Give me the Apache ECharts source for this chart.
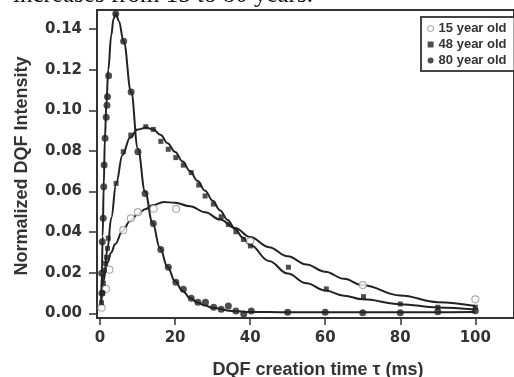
<!DOCTYPE html>
<html>
<head>
<meta charset="utf-8">
<script src="https://cdn.jsdelivr.net/npm/echarts@6/dist/echarts.min.js"></script>
<style>
html,body{margin:0;padding:0;background:#fff;}
#c{width:514px;height:377px;}
</style>
</head>
<body>
<div id="c"></div>
<script>
// ---- data ----
var seriesNames = ['15 year old', '48 year old', '80 year old'];
var xTicks = [0, 20, 40, 60, 80, 100];
var yTicks = [0, 0.02, 0.04, 0.06, 0.08, 0.10, 0.12, 0.14];

// measured points
var t15 = [0.4, 1.6, 2.5, 6.2, 8.2, 10.1, 14.3, 20.3, 40, 70, 100];
var v15 = [0.0028, 0.012, 0.0215, 0.041, 0.0468, 0.0498, 0.0515, 0.0514, 0.0355, 0.0139, 0.0069];

var t48 = [0.4, 0.7, 0.9, 1.2, 1.5, 1.75, 2.0, 2.2, 4.3, 6.2, 8.2, 12.2, 14.2, 16.2, 18.2, 20.2, 22.2, 24.3, 26.3, 28.0, 30.2, 32.3, 34.2, 36.2, 38.2, 40.1, 50.2, 60.3, 70.2, 80, 90, 100];
var v48 = [0.0052, 0.010, 0.0148, 0.0213, 0.0246, 0.0276, 0.032, 0.037, 0.064, 0.0796, 0.0878, 0.0919, 0.0906, 0.0847, 0.0808, 0.0767, 0.073, 0.0693, 0.0632, 0.0578, 0.0538, 0.0476, 0.0438, 0.0402, 0.0364, 0.0332, 0.0227, 0.012, 0.0082, 0.0046, 0.003, 0.003];

var t80 = [0.5, 0.45, 0.6, 0.85, 1.0, 1.1, 1.35, 1.65, 1.85, 2.0, 2.3, 4.2, 6.3, 8.3, 10.1, 12.0, 14.2, 16.2, 18.2, 20.2, 22.2, 24.3, 26.1, 28.1, 30.3, 32.3, 34.2, 36.2, 38.3, 40.3, 50, 60, 70, 80, 90, 100];
var v80 = [0.0099, 0.0197, 0.0353, 0.0468, 0.0624, 0.073, 0.0862, 0.0966, 0.1025, 0.1067, 0.117, 0.1475, 0.134, 0.109, 0.0796, 0.059, 0.0443, 0.0315, 0.0227, 0.0153, 0.0118, 0.0074, 0.0054, 0.0054, 0.003, 0.002, 0.0036, 0.0011, -0.0003, 0.0011, 0.0005, 0.0005, 0.0003, 0.0003, 0.0008, 0.0013];

// fitted curves
var fitT15 = [0.5, 1, 2, 3, 4, 6, 8, 10, 12, 14, 17, 20, 24, 28, 32, 36, 40, 45, 50, 55, 60, 65, 70, 80, 90, 100];
var fitV15 = [0.014, 0.019, 0.025, 0.030, 0.034, 0.0405, 0.0455, 0.0487, 0.0513, 0.0532, 0.0548, 0.0545, 0.0527, 0.0498, 0.0462, 0.042, 0.0376, 0.0326, 0.0281, 0.0241, 0.0205, 0.017, 0.0138, 0.0088, 0.0055, 0.0036];

var fitT48 = [0.3, 1.0, 2.0, 3.0, 4.3, 6.0, 8.0, 10.0, 12.3, 14.2, 16.2, 18, 20, 22, 24, 26, 28, 30, 32, 34, 36, 38, 40, 45, 50, 55, 60, 65, 70, 80, 90, 100];
var fitV48 = [0.004, 0.016, 0.032, 0.047, 0.064, 0.078, 0.0865, 0.0905, 0.0915, 0.0905, 0.0878, 0.0838, 0.0795, 0.0748, 0.070, 0.0652, 0.0604, 0.0555, 0.0507, 0.046, 0.0415, 0.0374, 0.0336, 0.0258, 0.0196, 0.0148, 0.0112, 0.0087, 0.0069, 0.0045, 0.0029, 0.0019];

var fitT80 = [0.3, 0.5, 0.7, 1.0, 1.3, 1.7, 2.2, 3.0, 3.6, 4.2, 5.0, 6.3, 8.3, 10.1, 12, 14, 16, 18, 20, 22, 24, 26, 28, 30, 35, 40, 50, 60, 70, 80, 90, 100];
var fitV80 = [0.005, 0.02, 0.038, 0.063, 0.086, 0.103, 0.12, 0.137, 0.145, 0.1478, 0.144, 0.134, 0.109, 0.081, 0.06, 0.0445, 0.032, 0.0228, 0.0158, 0.011, 0.0076, 0.0053, 0.0038, 0.0027, 0.0012, 0.0007, 0.0005, 0.0005, 0.0005, 0.0005, 0.0005, 0.0006];

var captionText = 'increases from 15 to 80 years.';
var xTitle = 'DQF creation time \u03c4 (ms)';
var yTitle = 'Normalized DQF Intensity';

function pairs(ts, vs) { return ts.map(function (t, i) { return [t, vs[i]]; }); }

var INK = '#222';
var LBL = 'DejaVu Sans';
var TITLEF = 'Liberation Sans';

var chart = echarts.init(document.getElementById('c'), null, {renderer: 'canvas'});

function fitSeries(ts, vs) {
  return {
    type: 'line', data: pairs(ts, vs), smooth: 0.4, smoothMonotone: 'x',
    showSymbol: false, symbol: 'none', silent: true, z: 2,
    lineStyle: {color: INK, width: 2}
  };
}

chart.setOption({
  animation: false,
  backgroundColor: '#fff',
  grid: {left: 97, right: -5, top: 10, bottom: 59, show: true, borderColor: '#333', borderWidth: 2, containLabel: false},
  xAxis: {
    type: 'value', min: -0.8, max: 110.3,
    axisLine: {show: true, onZero: false, lineStyle: {color: '#333', width: 2}},
    axisTick: {show: true, customValues: xTicks, length: 7, inside: false, lineStyle: {color: '#333', width: 1.5}},
    axisLabel: {customValues: xTicks, margin: 13, color: '#333', fontFamily: LBL, fontWeight: 'bold', fontSize: 15},
    splitLine: {show: false}
  },
  yAxis: {
    type: 'value', min: -0.0023, max: 0.1494,
    axisLine: {show: true, onZero: false, lineStyle: {color: '#333', width: 2}},
    axisTick: {show: true, customValues: yTicks, length: 8, inside: false, lineStyle: {color: '#333', width: 1.5}},
    axisLabel: {customValues: yTicks, margin: 15, color: '#333', fontFamily: LBL, fontWeight: 'bold', fontSize: 15,
      formatter: function (v) { return v.toFixed(2); }},
    splitLine: {show: false}
  },
  legend: {
    data: [
      {name: seriesNames[0], icon: 'circle', itemStyle: {color: '#fff', borderColor: '#999', borderWidth: 1.2}},
      {name: seriesNames[1], icon: 'rect', itemStyle: {color: INK}},
      {name: seriesNames[2], icon: 'circle', itemStyle: {color: INK}}
    ],
    orient: 'vertical', left: 421, top: 17,
    padding: [5, 8, 4, 6], itemGap: 3, itemWidth: 6, itemHeight: 6,
    backgroundColor: '#fff', borderColor: '#444', borderWidth: 2,
    textStyle: {fontFamily: TITLEF, fontWeight: 'bold', fontSize: 13, color: '#333', padding: [0, 0, 0, 0]},
    selectedMode: false
  },
  graphic: [
    {type: 'text', x: 13, y: -5, silent: true,
      style: {text: captionText, font: '25px "Liberation Serif"', fill: '#111', verticalAlign: 'middle', align: 'left'}},
    {type: 'text', x: 318, y: 370, silent: true,
      style: {text: xTitle, font: 'bold 18px "Liberation Sans"', fill: '#333', align: 'center', verticalAlign: 'middle'}},
    {type: 'text', x: 22, y: 166, rotation: Math.PI / 2, silent: true,
      style: {text: yTitle, font: 'bold 18px "Liberation Sans"', fill: '#333', align: 'center', verticalAlign: 'middle'}}
  ],
  series: [
    fitSeries(fitT15, fitV15),
    fitSeries(fitT48, fitV48),
    fitSeries(fitT80, fitV80),
    {name: seriesNames[0], type: 'scatter', data: pairs(t15, v15), symbol: 'circle', symbolSize: 7, z: 3,
      itemStyle: {color: '#fff', borderColor: '#999', borderWidth: 1.2}},
    {name: seriesNames[1], type: 'scatter', data: pairs(t48, v48), symbol: 'rect', symbolSize: 5, z: 4,
      itemStyle: {color: INK}},
    {name: seriesNames[2], type: 'scatter', data: pairs(t80, v80), symbol: 'circle', symbolSize: 7, z: 5,
      itemStyle: {color: INK}}
  ]
});
</script>
</body>
</html>
